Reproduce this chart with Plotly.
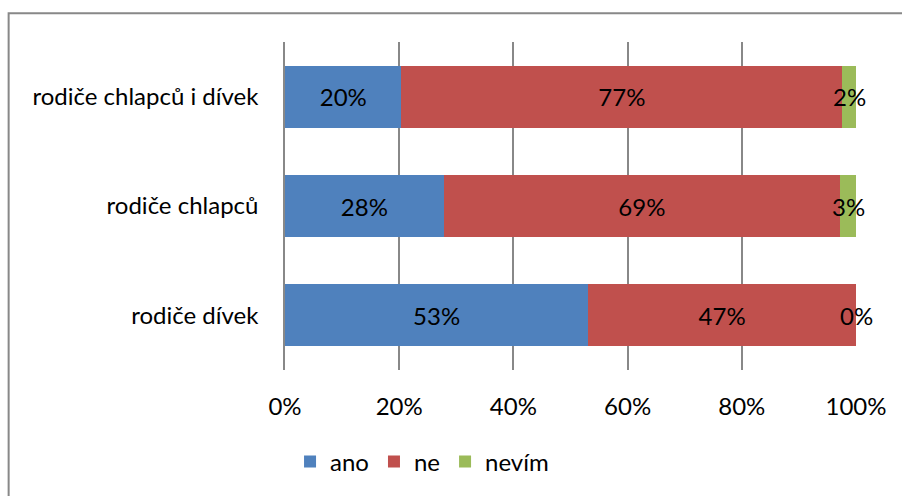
import plotly.graph_objects as go

categories = ["rodiče dívek", "rodiče chlapců", "rodiče chlapců i dívek"]
ano = [53.1, 27.8, 20.4]
ne = [46.9, 69.4, 77.2]
nevim = [0.0, 2.8, 2.4]
labels_ano = ["53%", "28%", "20%"]
labels_ne = ["47%", "69%", "77%"]
labels_nevim = ["0%", "3%", "2%"]
tick_vals = [0, 20, 40, 60, 80, 100]
tick_text = ["0%", "20%", "40%", "60%", "80%", "100%"]

font = "Lato, Calibri, sans-serif"
fsize = 24

fig = go.Figure()
for name, vals, txt, color in [
    ("ano", ano, labels_ano, "#4F81BD"),
    ("ne", ne, labels_ne, "#C0504D"),
    ("nevím", nevim, [""] * 3, "#9BBB59"),
]:
    fig.add_trace(go.Bar(
        y=categories, x=vals, name=name, orientation="h",
        marker=dict(color=color, line=dict(width=0)),
        text=txt, textposition="inside", insidetextanchor="middle",
        textangle=0, constraintext="none",
        textfont=dict(family=font, size=fsize, color="black"),
    ))

# labels of the thin "nevím" segments overflow the bar, so place them as annotations
for cat, a, n, v, t in zip(categories, ano, ne, nevim, labels_nevim):
    fig.add_annotation(x=a + n + v / 2, y=cat, text=t, showarrow=False,
                       xanchor="center", font=dict(family=font, size=fsize, color="black"))

fig.update_layout(
    barmode="stack",
    bargap=0.43,
    width=902, height=496,
    margin=dict(l=285, r=46, t=42, b=124),
    paper_bgcolor="white", plot_bgcolor="white",
    font=dict(family=font, size=fsize, color="black"),
    showlegend=True,
    legend=dict(orientation="h", x=0.24, xanchor="center", y=-0.28, yanchor="middle",
                font=dict(size=fsize), traceorder="normal", bgcolor="rgba(0,0,0,0)"),
)
fig.update_xaxes(range=[0, 100], tickvals=tick_vals, ticktext=tick_text,
                 showgrid=True, gridcolor="#888888", gridwidth=1.5,
                 zeroline=False, showline=False, ticks="", ticklen=0,
                 ticklabelstandoff=20, tickfont=dict(size=fsize))
fig.update_yaxes(showgrid=False, zeroline=False, showline=True, linecolor="#888888",
                 linewidth=1.5, ticks="", ticklabelstandoff=20, tickfont=dict(size=fsize))

# chart border (right and bottom edges fall outside the picture)
fig.add_shape(type="rect", xref="paper", yref="paper",
              x0=-0.484, x1=1.2, y0=-0.5, y1=1.0879,
              line=dict(color="#888888", width=2), fillcolor="rgba(0,0,0,0)",
              layer="below")

fig.write_html("out.html", config={"displayModeBar": False},
               post_script="document.body.style.margin='0';")
